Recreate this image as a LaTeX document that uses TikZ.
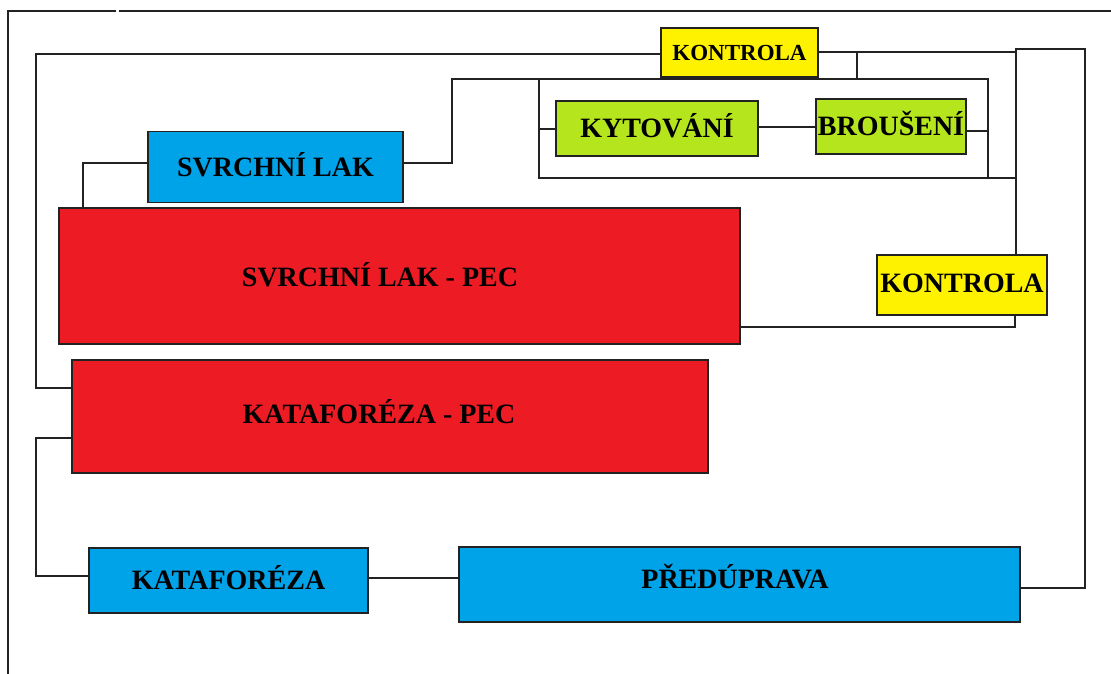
\documentclass[tikz,border=0pt]{standalone}
\usepackage{fontspec}
\setmainfont{Liberation Serif}
\definecolor{pred}{HTML}{ED1C24}
\definecolor{pblue}{HTML}{00A2E8}
\definecolor{pyellow}{HTML}{FFF200}
\definecolor{pgreen}{HTML}{B5E61D}
\definecolor{lin}{HTML}{222222}
\begin{document}
\begin{tikzpicture}[x=1pt,y=-1pt,
  box/.style={draw=lin,line width=1.3pt,rectangle,inner sep=0pt,anchor=center,
    font=\bfseries\fontsize{28}{28}\selectfont,text height=18.5pt,text depth=0pt},
  txt/.style={inner sep=0pt,anchor=center,
    font=\bfseries\fontsize{28}{28}\selectfont,text height=18.5pt,text depth=0pt},
  conn/.style={draw=lin,line width=1.3pt},
  frame/.style={draw=lin,line width=1.2pt}]
\useasboundingbox (0,0) rectangle (1111,674);
\fill[white] (0,0) rectangle (1111,674);
% outer frame
\draw[frame] (8,674) -- (8,11) -- (116,11);
\draw[frame] (119,11) -- (1111,11);
% boxes
\node[box,fill=pyellow,minimum width=157pt,minimum height=49pt,font=\bfseries\fontsize{23}{23}\selectfont,text height=15.2pt] (kontrola1) at (739.5,52.5) {KONTROLA};
\node[box,fill=pgreen,minimum width=202pt,minimum height=55pt] (kyt) at (657,128.5) {KYTOVÁNÍ};
\node[box,fill=pgreen,minimum width=150pt,minimum height=55pt] (brou) at (891,126.5) {BROUŠENÍ};
\node[box,fill=pblue,minimum width=255pt,minimum height=71pt] (svl) at (275.5,167) {SVRCHNÍ LAK};
\node[box,fill=pred,minimum width=681pt,minimum height=136pt] (pec1) at (399.5,276) {};
\node[txt] (tpec1) at (380,277) {SVRCHNÍ LAK - PEC};
\node[box,fill=pyellow,minimum width=170pt,minimum height=60pt] (kontrola2) at (962,285) {};
\node[txt] (tkontrola2) at (962,283) {KONTROLA};
\node[box,fill=pred,minimum width=636pt,minimum height=113pt] (pec2) at (390,416.5) {};
\node[txt] (tpec2) at (379,414) {KATAFORÉZA - PEC};
\node[box,fill=pblue,minimum width=279pt,minimum height=65pt] (kata) at (228.5,580.5) {KATAFORÉZA};
\node[box,fill=pblue,minimum width=561pt,minimum height=75pt] (pred) at (739.5,584.5) {};
\node[txt] (tpred) at (735,579) {PŘEDÚPRAVA};
% junction coordinates
\coordinate (a1) at (36,388);
\coordinate (a2) at (36,54);
\coordinate (b0) at (1016,52);
\coordinate (b1) at (1016,49);
\coordinate (b2) at (1085,49);
\coordinate (b3) at (1085,588);
\coordinate (c0) at (857,52);
\coordinate (c1) at (857,79);
\coordinate (d1) at (452,79);
\coordinate (d2) at (988,79);
\coordinate (d3) at (988,178);
\coordinate (d4) at (539,79);
\coordinate (d5) at (539,178);
\coordinate (d6) at (1016,178);
\coordinate (d7) at (539,129);
\coordinate (d8) at (988,131);
\coordinate (e1) at (452,163);
\coordinate (e2) at (83,163);
\coordinate (f1) at (1015,327);
\coordinate (g1) at (36,438);
\coordinate (g2) at (36,576);
\coordinate (h1) at (400,578);
% connectors
\draw[conn] (a1 -| pec2.west) -- (a1) -- (a2) -- (a2 -| kontrola1.west);
\draw[conn] (b0 -| kontrola1.east) -- (b0);
\draw[conn] (kontrola2.north -| b1) -- (b1) -- (b2) -- (b3) -- (b3 -| pred.east);
\draw[conn] (c0) -- (c1);
\draw[conn] (e1 -| svl.east) -- (e1) -- (d1) -- (d2) -- (d3);
\draw[conn] (d4) -- (d5) -- (d6);
\draw[conn] (d7) -- (d7 -| kyt.west);
\draw[conn] (kyt.east |- 0,127) -- (brou.west |- 0,127);
\draw[conn] (d8 -| brou.east) -- (d8);
\draw[conn] (e2 -| svl.west) -- (e2) -- (e2 |- pec1.north);
\draw[conn] (f1 -| pec1.east) -- (f1) -- (f1 |- kontrola2.south);
\draw[conn] (g1 -| pec2.west) -- (g1) -- (g2) -- (g2 -| kata.west);
\draw[conn] (h1 -| kata.east) -- (h1 -| pred.west);
\end{tikzpicture}
\end{document}
